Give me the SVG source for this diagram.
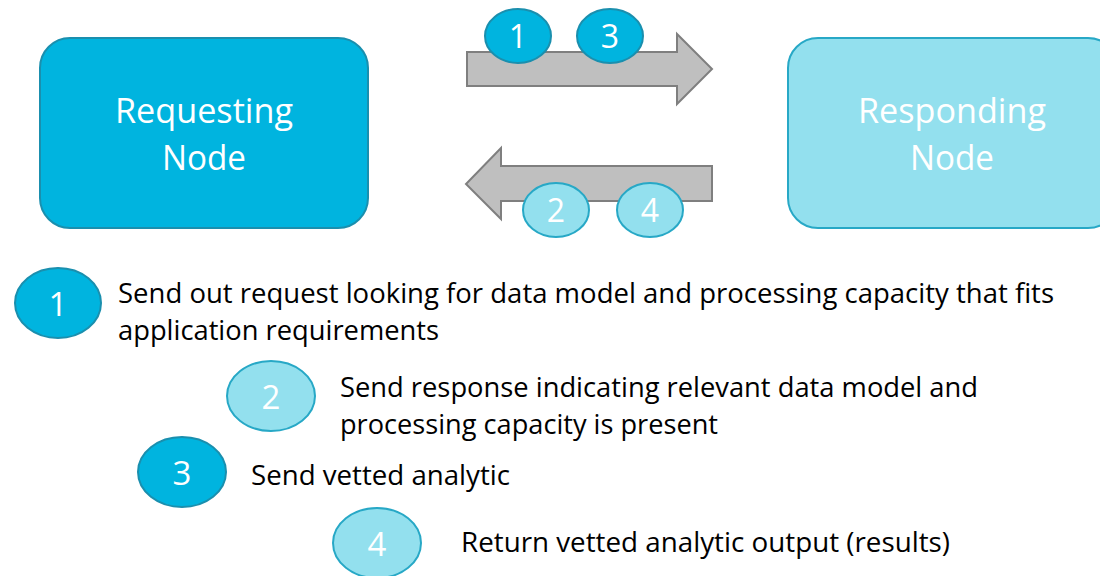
<svg xmlns="http://www.w3.org/2000/svg" width="1100" height="576" viewBox="0 0 1100 576">
<style>
.dark{fill:#00B4DF;stroke:#1A8FAE;stroke-width:2}
.light{fill:#93E0EE;stroke:#27A8C6;stroke-width:2}
.arrow{fill:#BFBFBF;stroke:#7F7F7F;stroke-width:2}
.lbl{font-family:"Open Sans","Noto Sans",sans-serif;fill:#fff;text-anchor:middle}
.body{font-family:"Open Sans","Noto Sans",sans-serif;fill:#000;font-size:27px}
</style>
<rect width="1100" height="576" fill="#fff"/>
<g id="requesting-node">
<rect class="dark" x="40" y="38" width="328" height="190" rx="30"/>
<text class="lbl" x="204" y="123" font-size="34" textLength="178" lengthAdjust="spacingAndGlyphs">Requesting</text>
<text class="lbl" x="204" y="170" font-size="34" textLength="84" lengthAdjust="spacingAndGlyphs">Node</text>
</g>
<g id="responding-node">
<rect class="light" x="788" y="38" width="330" height="190" rx="30"/>
<text class="lbl" x="952" y="123" font-size="34" textLength="188" lengthAdjust="spacingAndGlyphs">Responding</text>
<text class="lbl" x="952" y="170" font-size="34" textLength="84" lengthAdjust="spacingAndGlyphs">Node</text>
</g>
<g id="connectors">
<path class="arrow" d="M467 52 H677 V34 L712 69 L677 104 V86 H467 Z"/>
<path class="arrow" d="M712 166 H501 V148 L466 184 L501 219 V201 H712 Z"/>
</g>
<g id="badge-1-top">
<ellipse class="dark" cx="518" cy="36" rx="33" ry="27"/>
<text class="lbl" x="518" y="48" font-size="32">1</text>
</g>
<g id="badge-3-top">
<ellipse class="dark" cx="610" cy="36" rx="33" ry="27"/>
<text class="lbl" x="610" y="48" font-size="32">3</text>
</g>
<g id="badge-2-bottom">
<ellipse class="light" cx="556" cy="210" rx="33" ry="27"/>
<text class="lbl" x="556" y="222" font-size="32">2</text>
</g>
<g id="badge-4-bottom">
<ellipse class="light" cx="650" cy="210" rx="33" ry="27"/>
<text class="lbl" x="650" y="222" font-size="32">4</text>
</g>
<g id="legend-1">
<ellipse class="dark" cx="58" cy="303" rx="43" ry="35"/>
<text class="lbl" x="58" y="316" font-size="33">1</text>
<text class="body" x="118" y="303" textLength="936" lengthAdjust="spacingAndGlyphs">Send out request looking for data model and processing capacity that fits</text>
<text class="body" x="118" y="340" textLength="321" lengthAdjust="spacingAndGlyphs">application requirements</text>
</g>
<g id="legend-2">
<ellipse class="light" cx="271" cy="396" rx="44" ry="35"/>
<text class="lbl" x="271" y="409" font-size="33">2</text>
<text class="body" x="340" y="397" textLength="638" lengthAdjust="spacingAndGlyphs">Send response indicating relevant data model and</text>
<text class="body" x="340" y="434" textLength="378" lengthAdjust="spacingAndGlyphs">processing capacity is present</text>
</g>
<g id="legend-3">
<ellipse class="dark" cx="182" cy="472" rx="44" ry="35"/>
<text class="lbl" x="182" y="485" font-size="33">3</text>
<text class="body" x="251" y="485" textLength="259" lengthAdjust="spacingAndGlyphs">Send vetted analytic</text>
</g>
<g id="legend-4">
<ellipse class="light" cx="377" cy="543" rx="44" ry="35"/>
<text class="lbl" x="377" y="556" font-size="33">4</text>
<text class="body" x="461" y="552" textLength="489" lengthAdjust="spacingAndGlyphs">Return vetted analytic output (results)</text>
</g>
</svg>
